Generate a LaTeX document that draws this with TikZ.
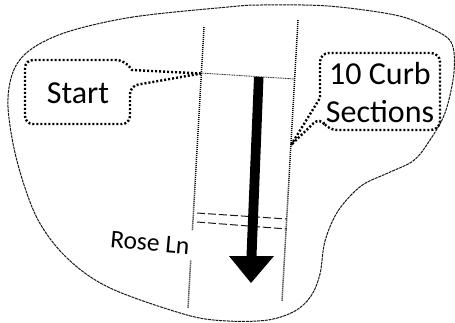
\documentclass[tikz,border=0pt]{standalone}
\usepackage{fontspec}
\setmainfont{Carlito}
\tikzset{
  outline/.style={line width=1pt,dash pattern=on 3pt off 0.8pt,black!90},
  road/.style={line width=1.5pt,dash pattern=on 1pt off 1pt,black},
  startline/.style={line width=0.9pt,dash pattern=on 1pt off 0.7pt,black!80},
  callout/.style={line width=2.4pt,dash pattern=on 2pt off 2pt,black},
  curb/.style={line width=1pt,dash pattern=on 8pt off 3pt,black!90},
  lbl/.style={inner sep=0pt,text=black,font=\fontsize{32}{33}\selectfont},
}
\begin{document}
\begin{tikzpicture}[x=1pt,y=-1pt]
\useasboundingbox (0,0) rectangle (455,322);
\fill[white] (0,0) rectangle (455,322);
% lot outline
\draw[outline] plot[smooth cycle,tension=0.55] coordinates {
 (228,7) (133,17) (67,32) (30,50) (13,72) (8,107) (17,161) (37,218) (67,258) (110,288)
 (187,315) (228,321) (268,320) (295,311) (311,296) (320,274) (325,241) (338,211) (361,186)
 (388,173) (413,161) (428,143) (445,113) (454,72) (451,42) (428,27) (395,15) (328,6) (261,5)};
% roads
\coordinate (lt) at (204,27); \coordinate (lb) at (188,308);
\coordinate (rt) at (298,20); \coordinate (rb) at (282,301);
\draw[road] (lt) -- (lb);
\draw[road] (rt) -- (rb);
\coordinate (sa) at (200,73); \coordinate (sb) at (295,79);
\draw[startline] (sa) -- (sb);
% curb lines
\coordinate (c1a) at (197,213); \coordinate (c1b) at (287,219);
\coordinate (c2a) at (197,222); \coordinate (c2b) at (287,229);
\draw[curb] (c1a) -- (c1b);
\draw[curb] (c2a) -- (c2b);
% arrow
\fill[black] (254,77) -- (263.5,77) -- (256.5,256) -- (274,256) -- (251,283) -- (229,256) -- (246.5,256) -- cycle;
% label patch
\node[fill=white,minimum width=98pt,minimum height=30pt,inner sep=0pt,rotate=-4] (patch) at (159,243) {};
\node[lbl,font=\fontsize{25.5}{26}\selectfont,rotate=-5] (rose) at (150,243) {Rose Ln};
% callouts
\coordinate (st) at (201,73.5);
\draw[callout] (st) -- (132,70) {[rounded corners=8pt] -- (124,60) -- (25,60) -- (25,124) -- (130,124) -- (130,86)} -- cycle;
\coordinate (cs) at (291,145);
\draw[callout] (cs) -- (320,98) {[rounded corners=9pt] -- (320,53) -- (440,53) -- (440,130) -- (328,130) -- (320,117)} -- cycle;
\node[lbl] (start) at (78,93) {Start};
\node[lbl] (curbA) at (380,74) {10 Curb};
\node[lbl] (curbB) at (380,112) {Sections};
\end{tikzpicture}
\end{document}
